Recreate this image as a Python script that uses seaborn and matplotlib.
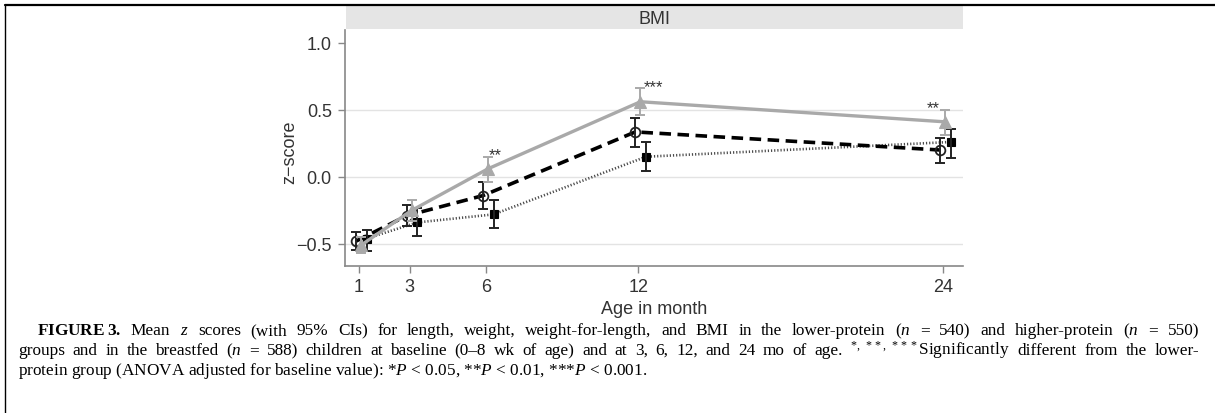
import numpy as np
import pandas as pd
import matplotlib
matplotlib.use("Agg")
import matplotlib.pyplot as plt
from matplotlib.lines import Line2D
import seaborn as sns

# ---------------- data ----------------
months = [1, 3, 6, 12, 24]
x_ticks = [1, 3, 6, 12, 24]
y_ticks = [-0.5, 0.0, 0.5, 1.0]
y_tick_labels = ["\u22120.5", "0.0", "0.5", "1.0"]

higher_mean = [-0.51, -0.25, 0.06, 0.56, 0.41]
higher_lo = [-0.57, -0.33, -0.04, 0.46, 0.31]
higher_hi = [-0.45, -0.17, 0.15, 0.66, 0.50]

lower_mean = [-0.48, -0.29, -0.14, 0.335, 0.20]
lower_lo = [-0.545, -0.37, -0.24, 0.225, 0.10]
lower_hi = [-0.41, -0.21, -0.04, 0.44, 0.29]

breast_mean = [-0.46, -0.34, -0.28, 0.15, 0.26]
breast_lo = [-0.55, -0.44, -0.38, 0.045, 0.14]
breast_hi = [-0.40, -0.23, -0.17, 0.26, 0.36]

star_months = [6, 12, 24]
star_labels = ["**", "***", "**"]

panel_title = "BMI"
x_label = "Age in month"
y_label = "z\u2212score"

caption_lines = [
    r"$\mathbf{FIGURE\;3.}$ Mean $\mathit{z}$ scores (with 95% CIs) for length, weight, weight-for-length, and BMI in the lower-protein ($\mathit{n}$ = 540) and higher-protein ($\mathit{n}$ = 550)",
    r"groups and in the breastfed ($\mathit{n}$ = 588) children at baseline (0–8 wk of age) and at 3, 6, 12, and 24 mo of age. $^{*,\;**,\;***}$Significantly different from the lower-",
    r"protein group (ANOVA adjusted for baseline value): *$\mathit{P}$ < 0.05, **$\mathit{P}$ < 0.01, ***$\mathit{P}$ < 0.001.",
]

# ---------------- style ----------------
sns.set_theme(style="white")
plt.rcParams["font.family"] = ["Liberation Sans", "DejaVu Sans"]
plt.rcParams["mathtext.fontset"] = "custom"
plt.rcParams["mathtext.rm"] = "Liberation Serif"
plt.rcParams["mathtext.it"] = "Liberation Serif:italic"
plt.rcParams["mathtext.bf"] = "Liberation Serif:bold"

W, H = 1215, 414
fig = plt.figure(figsize=(W / 100, H / 100), dpi=100)
fig.patch.set_facecolor("white")

def fx(px):
    return px / W

def fy(py):
    return 1 - py / H

ax_left, ax_right, ax_top, ax_bottom = 345, 963, 31, 267
ax = fig.add_axes([fx(ax_left), fy(ax_bottom), fx(ax_right - ax_left), (ax_bottom - ax_top) / H])
strip = fig.add_axes([fx(346), fy(30), fx(963 - 346), 23 / H])
strip.set_facecolor("#e5e5e5")
strip.set_xticks([]); strip.set_yticks([])
for s in strip.spines.values():
    s.set_visible(False)
strip.text(0.5, 0.45, panel_title, ha="center", va="center", fontsize=13, color="#333333",
           transform=strip.transAxes)

gray = "#a9a9a9"
offsets = {"breast": 0.30, "lower": -0.12, "higher": 0.08}

series = [
    ("breast", breast_mean, breast_lo, breast_hi),
    ("lower", lower_mean, lower_lo, lower_hi),
    ("higher", higher_mean, higher_lo, higher_hi),
]

frames = []
for name, m, lo, hi in series:
    frames.append(pd.DataFrame({"month": months, "z": m, "lo": lo, "hi": hi, "group": name}))
df = pd.concat(frames, ignore_index=True)
df["pos"] = df["month"] + df["group"].map(offsets)

# grid lines
for yv in [-0.5, 0.0, 0.5]:
    ax.axhline(yv, color="#e3e3e3", lw=1.0, zorder=0)

d = df[df.group == "breast"]
sns.lineplot(data=d, x="pos", y="z", ax=ax, color="#4a4a4a", lw=1.9,
             linestyle=(0, (0.45, 0.75)), marker="s", markersize=5.5,
             markerfacecolor="black", markeredgecolor="black", markeredgewidth=0.8,
             errorbar=None, legend=False, zorder=3)
ax.errorbar(d["pos"], d["z"], yerr=[d["z"] - d["lo"], d["hi"] - d["z"]], fmt="none",
            ecolor="#222222", elinewidth=1.4, capsize=3.6, capthick=1.4, zorder=3)

d = df[df.group == "lower"]
sns.lineplot(data=d, x="pos", y="z", ax=ax, color="black", lw=2.6,
             linestyle=(0, (3.2, 1.8)), marker="o", markersize=7,
             markerfacecolor="none", markeredgecolor="#222222", markeredgewidth=1.3,
             errorbar=None, legend=False, zorder=4)
ax.errorbar(d["pos"], d["z"], yerr=[d["z"] - d["lo"], d["hi"] - d["z"]], fmt="none",
            ecolor="#222222", elinewidth=1.4, capsize=3.6, capthick=1.4, zorder=4)

d = df[df.group == "higher"]
sns.lineplot(data=d, x="pos", y="z", ax=ax, color=gray, lw=2.4,
             linestyle="-", marker="^", markersize=8,
             markerfacecolor=gray, markeredgecolor=gray, markeredgewidth=0.8,
             errorbar=None, legend=False, zorder=5)
ax.errorbar(d["pos"], d["z"], yerr=[d["z"] - d["lo"], d["hi"] - d["z"]], fmt="none",
            ecolor=gray, elinewidth=1.4, capsize=3.6, capthick=1.4, zorder=5)

# significance stars
star_nudge = [0.35, 0.6, -0.4]
for mth, lab, nud in zip(star_months, star_labels, star_nudge):
    hi = higher_hi[months.index(mth)]
    ax.text(mth + nud, hi - 0.04, lab, ha="center", va="bottom", fontsize=12, color="#333333")

ax.set_xlim(0.45, 24.78)
ax.set_ylim(-0.665, 1.095)
ax.set_xticks(x_ticks)
ax.set_xticklabels([str(t) for t in x_ticks])
ax.set_yticks(y_ticks)
ax.set_yticklabels(y_tick_labels)
ax.tick_params(axis="both", which="both", length=5, width=1.0, color="#888888",
               labelsize=13, labelcolor="#333333", direction="out",
               left=True, bottom=True)
ax.tick_params(axis="y", pad=4.5)
ax.tick_params(axis="x", pad=4)
ax.set_xlabel("")
ax.set_ylabel("")
for side in ["top", "right"]:
    ax.spines[side].set_visible(False)
for side in ["left", "bottom"]:
    ax.spines[side].set_color("#888888")
    ax.spines[side].set_linewidth(1.2)

fig.text(fx(290), fy(152), y_label, rotation=90, ha="center", va="center", fontsize=13, color="#333333")
fig.text(fx(654), fy(310), x_label, ha="center", va="center", fontsize=13, color="#333333")

# caption (justified first two lines)
cap_kw = dict(fontsize=12.4, family=["Liberation Serif", "DejaVu Serif"], color="black", va="baseline", ha="left")
renderer = fig.canvas.get_renderer()

def draw_line(text, x0, y, x1=None):
    words = text.split(" ")
    if x1 is None:
        fig.text(fx(x0), fy(y), text, **cap_kw)
        return
    arts = [fig.text(0, fy(y), w, **cap_kw) for w in words]
    widths = [a.get_window_extent(renderer).width for a in arts]
    gap = (x1 - x0 - sum(widths)) / (len(words) - 1)
    xc = x0
    for a, wdt in zip(arts, widths):
        a.set_x(fx(xc))
        xc += wdt + gap

draw_line(caption_lines[0], 37, 335, 1199)
draw_line(caption_lines[1], 18, 355, 1199)
draw_line(caption_lines[2], 18, 375)

# page frame lines
fig.add_artist(Line2D([fx(5), 1.0], [fy(5.5), fy(5.5)], color="black", lw=1.6, transform=fig.transFigure))
fig.add_artist(Line2D([fx(5), fx(5)], [fy(5.5), 0.0], color="black", lw=1.0, transform=fig.transFigure))

fig.savefig("out.png", dpi=100, facecolor="white")
